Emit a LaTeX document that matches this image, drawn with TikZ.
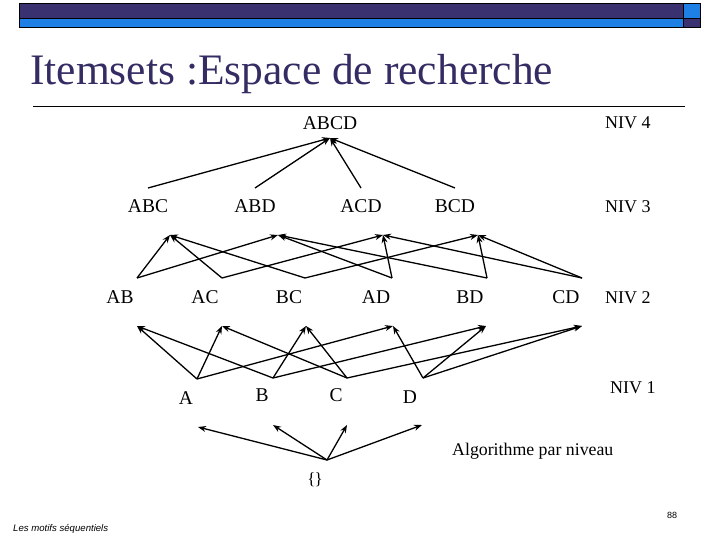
\documentclass[tikz,border=0pt]{standalone}
\usepackage{fontspec}
\setmainfont{Liberation Serif}
\setsansfont{Liberation Sans}
\usetikzlibrary{arrows.meta}
\definecolor{navy}{RGB}{58,49,112}
\definecolor{barblue}{RGB}{30,128,228}
\definecolor{titlecol}{RGB}{51,45,100}
\begin{document}
\begin{tikzpicture}[x=1pt,y=-1pt,
  lbl/.style={inner sep=0pt, anchor=base, font=\fontsize{19.5}{20}\selectfont},
  niv/.style={inner sep=0pt, anchor=base west, font=\fontsize{18}{20}\selectfont},
  arr/.style={line width=1.3pt, -{Stealth[length=8pt,width=6pt]}},
  ]
\useasboundingbox (0,0) rectangle (720,540);
% header bars
\fill[navy] (19,3.3) rectangle (683,18.3);
\fill[barblue] (19,18.3) rectangle (683,27);
\fill[barblue] (683,3.3) rectangle (700,18.3);
\fill[navy] (683,18.3) rectangle (700,27);
\draw[line width=0.6pt] (19,3.3) rectangle (700,27);
\draw[line width=0.6pt] (19,18.3) -- (700,18.3);
\draw[line width=0.6pt] (683,3.3) -- (683,27);
% title
\node[anchor=base west, inner sep=0pt, text=titlecol, font=\fontsize{43.5}{48}\selectfont] (title) at (30,85) {Itemsets :Espace de recherche};
\draw[line width=0.8pt] (33,106) -- (685,106);
% level labels
\node[niv] (n4) at (605,129) {NIV 4};
\node[niv] (n3) at (605,212) {NIV 3};
\node[niv] (n2) at (605,303) {NIV 2};
\node[niv] (n1) at (610,393) {NIV 1};
% nodes
\node[lbl] (ABCD) at (330,130) {ABCD};
\node[lbl] (ABC) at (148,213) {ABC};
\node[lbl] (ABD) at (255,213) {ABD};
\node[lbl] (ACD) at (361,213) {ACD};
\node[lbl] (BCD) at (455,213) {BCD};
\node[lbl] (AB) at (120,303) {AB};
\node[lbl] (AC) at (205,303) {AC};
\node[lbl] (BC) at (289,303) {BC};
\node[lbl] (AD) at (376,303) {AD};
\node[lbl] (BD) at (470,303) {BD};
\node[lbl] (CD) at (566,303) {CD};
\node[lbl] (A) at (186,404) {A};
\node[lbl] (B) at (262,401) {B};
\node[lbl] (C) at (336,401) {C};
\node[lbl] (D) at (410,403) {D};
\node[lbl, font=\fontsize{17}{20}\selectfont] (E) at (315,484) {\{\kern-1pt\}};
\node[inner sep=0pt, anchor=base west, font=\fontsize{17.8}{20}\selectfont] (algo) at (452,455) {Algorithme par niveau};
% anchor points
\coordinate (ABCD-b) at (330,138);
\coordinate (ABC-t) at (148,188); \coordinate (ABC-b) at (170,235);
\coordinate (ABD-t) at (255,188); \coordinate (ABD-b) at (278,235);
\coordinate (ACD-t) at (361,188); \coordinate (ACD-b) at (383,235);
\coordinate (BCD-t) at (455,188); \coordinate (BCD-b) at (478,235);
\coordinate (AB-t) at (137,278); \coordinate (AB-b) at (137,326);
\coordinate (AC-t) at (222,278); \coordinate (AC-b) at (222,326);
\coordinate (BC-t) at (305,278); \coordinate (BC-b) at (306,326);
\coordinate (AD-t) at (392,278); \coordinate (AD-b) at (393,326);
\coordinate (BD-t) at (487,278); \coordinate (BD-b) at (486,326);
\coordinate (CD-t) at (582,278); \coordinate (CD-b) at (582,326);
\coordinate (A-t) at (197,379); \coordinate (A-b) at (198,427);
\coordinate (B-t) at (273,378); \coordinate (B-b) at (273,425);
\coordinate (C-t) at (347,378); \coordinate (C-b) at (347,425);
\coordinate (D-t) at (423,378); \coordinate (D-b) at (422,425);
\coordinate (E-t) at (327,460);
% level 3 -> 4
\foreach \s in {ABC,ABD,ACD,BCD} \draw[arr] (\s-t) -- (ABCD-b);
% level 2 -> 3
\draw[arr] (AB-t) -- (ABC-b);
\draw[arr] (AB-t) -- (ABD-b);
\draw[arr] (AC-t) -- (ABC-b);
\draw[arr] (AC-t) -- (ACD-b);
\draw[arr] (BC-t) -- (ABC-b);
\draw[arr] (BC-t) -- (BCD-b);
\draw[arr] (AD-t) -- (ABD-b);
\draw[arr] (AD-t) -- (ACD-b);
\draw[arr] (BD-t) -- (ABD-b);
\draw[arr] (BD-t) -- (BCD-b);
\draw[arr] (CD-t) -- (ACD-b);
\draw[arr] (CD-t) -- (BCD-b);
% level 1 -> 2
\draw[arr] (A-t) -- (AB-b);
\draw[arr] (A-t) -- (AC-b);
\draw[arr] (A-t) -- (AD-b);
\draw[arr] (B-t) -- (AB-b);
\draw[arr] (B-t) -- (BC-b);
\draw[arr] (B-t) -- (BD-b);
\draw[arr] (C-t) -- (AC-b);
\draw[arr] (C-t) -- (BC-b);
\draw[arr] (C-t) -- (CD-b);
\draw[arr] (D-t) -- (AD-b);
\draw[arr] (D-t) -- (BD-b);
\draw[arr] (D-t) -- (CD-b);
% empty set -> level 1
\foreach \s in {A,B,C,D} \draw[arr] (E-t) -- (\s-b);
% footer
\node[anchor=base west, inner sep=0pt, font=\sffamily\itshape\fontsize{9.6}{10}\selectfont] (foot) at (13,531) {Les motifs séquentiels};
\node[anchor=base, inner sep=0pt, font=\sffamily\fontsize{9}{10}\selectfont] (page) at (672,518) {88};
\end{tikzpicture}
\end{document}
